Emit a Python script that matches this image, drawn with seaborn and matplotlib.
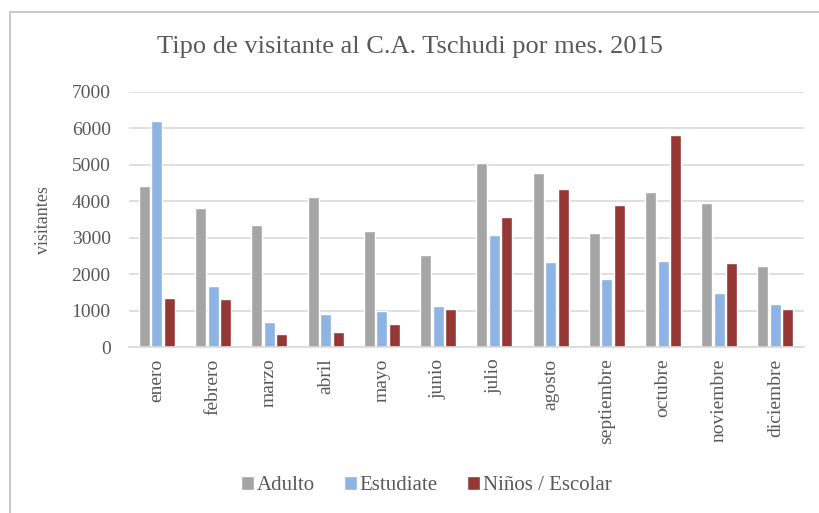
import pandas as pd
import matplotlib.pyplot as plt
import seaborn as sns
from matplotlib.patches import Rectangle

# Data
meses = ['enero', 'febrero', 'marzo', 'abril', 'mayo', 'junio',
         'julio', 'agosto', 'septiembre', 'octubre', 'noviembre', 'diciembre']
adulto = [4420, 3810, 3340, 4110, 3200, 2540, 5050, 4770, 3130, 4260, 3950, 2240]
estudiante = [6200, 1690, 700, 920, 1000, 1130, 3070, 2330, 1880, 2360, 1480, 1190]
ninos = [1340, 1320, 370, 420, 650, 1050, 3560, 4340, 3900, 5830, 2310, 1040]
series = ['Adulto', 'Estudiate', 'Niños / Escolar']
colores = ['#A5A5A5', '#8EB4E3', '#953735']

df = pd.DataFrame({'mes': meses * 3,
                   'tipo': [series[0]] * 12 + [series[1]] * 12 + [series[2]] * 12,
                   'visitantes': adulto + estudiante + ninos})

sns.set_theme(style='white')
plt.rcParams['font.family'] = ['Liberation Serif', 'DejaVu Serif']
txt = '#595959'

fig = plt.figure(figsize=(8.2, 5.13), dpi=100)
ax = fig.add_axes([0.157, 0.323, 0.823, 0.498])

sns.barplot(data=df, x='mes', y='visitantes', hue='tipo', order=meses,
            hue_order=series, palette=colores, width=0.667, gap=0.12,
            saturation=1, ax=ax, errorbar=None)

ax.set_ylim(0, 7000)
ax.set_yticks(range(0, 7001, 1000))
ax.yaxis.grid(True, color='#D9D9D9', linewidth=1.2)
ax.set_axisbelow(True)
for s in ['top', 'right', 'left']:
    ax.spines[s].set_visible(False)
ax.spines['bottom'].set_color('#D9D9D9')
ax.spines['bottom'].set_linewidth(1.2)
ax.tick_params(axis='y', length=0, pad=13, labelsize=14, labelcolor=txt)
ax.tick_params(axis='x', length=0, pad=8, labelsize=14, labelcolor=txt, rotation=90)
ax.set_xlabel('')
ax.set_ylabel('visitantes', fontsize=13, color=txt, labelpad=8)
ax.yaxis.set_label_coords(-0.114, 0.5)

fig.text(0.5, 0.908, 'Tipo de visitante al C.A. Tschudi por mes. 2015',
         ha='center', va='center', fontsize=19, color=txt)

handles, labels = ax.get_legend_handles_labels()
ax.legend_.remove()
fig.legend(handles, labels, loc='center', bbox_to_anchor=(0.52, 0.053), ncol=3,
           frameon=False, fontsize=15, labelcolor=txt, handlelength=0.6,
           handleheight=0.6, handletextpad=0.15, columnspacing=1.4)

fig.patches.append(Rectangle((10 / 820, -0.1), 1.2, 1 - 12 / 513 + 0.1,
                             transform=fig.transFigure, fill=False,
                             edgecolor='#BFBFBF', linewidth=1.2))

fig.savefig('out.png', dpi=100)
